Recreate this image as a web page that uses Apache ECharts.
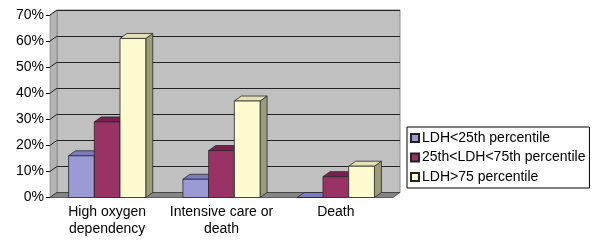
<!DOCTYPE html>
<html><head><meta charset="utf-8">
<script src="https://cdn.jsdelivr.net/npm/echarts@6/dist/echarts.min.js"></script>
<style>html,body{margin:0;padding:0;background:#fff}#c{width:600px;height:243px}</style>
</head><body><div id="c"></div>
<script>
var categories = ['High oxygen\ndependency', 'Intensive care or\ndeath', 'Death'];
var seriesNames = ['LDH<25th percentile', '25th<LDH<75th percentile', 'LDH>75 percentile'];
var lowLDH = [16, 7, 0];
var midLDH = [29, 18, 8];
var highLDH = [61, 37, 12];
var yTicks = [0, 10, 20, 30, 40, 50, 60, 70];

var DX = 7, DY = -5;
var faces = [
  {front: '#9a9ad4', top: '#7c7cc0', side: '#5e5e98'},
  {front: '#993366', top: '#7a2050', side: '#661a44'},
  {front: '#fffbd0', top: '#e4e2b4', side: '#9c9c78'}
];
var FONT = 'Liberation Sans, Arial, sans-serif';

function barRender(si) {
  return function (params, api) {
    var cat = api.value(0), val = api.value(1);
    var band = api.size([1, 0])[0];
    var w = band * 0.225;
    var center = api.coord([cat, 0])[0];
    var x0 = center + (si - 1.5) * w;
    var x1 = x0 + w;
    var yb = api.coord([cat, 0])[1];
    var yt = api.coord([cat, val])[1];
    var f = faces[si];
    var st = {stroke: '#2a2a2a', lineWidth: 0.8};
    return {type: 'group', children: [
      {type: 'polygon', shape: {points: [[x1, yt], [x1 + DX, yt + DY], [x1 + DX, yb + DY], [x1, yb]]},
        style: Object.assign({fill: f.side}, st)},
      {type: 'polygon', shape: {points: [[x0, yt], [x0 + DX, yt + DY], [x1 + DX, yt + DY], [x1, yt]]},
        style: Object.assign({fill: f.top}, st)},
      {type: 'rect', shape: {x: x0, y: yt, width: w, height: yb - yt},
        style: Object.assign({fill: f.front}, st)}
    ]};
  };
}

function frameRender(params, api) {
  var cs = params.coordSys;
  var L = cs.x, R = cs.x + cs.width, T = cs.y, B = cs.y + cs.height;
  var kids = [];
  kids.push({type: 'polygon', shape: {points: [[L, T], [L + DX, T + DY], [L + DX, B + DY], [L, B]]},
    style: {fill: '#b4b4b4', stroke: '#777', lineWidth: 0.6}});
  yTicks.forEach(function (t) {
    var y = api.coord([0, t])[1];
    kids.push({type: 'line', shape: {x1: L, y1: y, x2: L + DX, y2: y + DY},
      style: {stroke: '#222', lineWidth: 1}});
  });
  kids.push({type: 'polygon', shape: {points: [[L, B], [L + DX, B + DY], [R + DX, B + DY], [R, B]]},
    style: {fill: '#858585', stroke: '#444', lineWidth: 0.8}});
  return {type: 'group', children: kids};
}

var data = [lowLDH, midLDH, highLDH];
var series = [{
  type: 'custom', xAxisIndex: 0, yAxisIndex: 0, z: 1, silent: true,
  renderItem: frameRender, data: [[0, 0]], legendHoverLink: false
}];
data.forEach(function (arr, si) {
  series.push({
    name: seriesNames[si], type: 'custom', xAxisIndex: 0, yAxisIndex: 0, z: 2 + si,
    itemStyle: {color: faces[si].front, borderColor: '#222', borderWidth: 1},
    renderItem: barRender(si),
    data: arr.map(function (v, i) { return [i, v]; })
  });
});

var chart = echarts.init(document.getElementById('c'), null, {renderer: 'canvas'});
chart.setOption({
  animation: false,
  backgroundColor: '#fff',
  grid: [
    {left: 50, right: 207, top: 15, bottom: 45.5, containLabel: false},
    {left: 50 + DX, right: 207 - DX, top: 15 + DY, bottom: 45.5 - DY, show: true,
      backgroundColor: '#c0c0c0', borderColor: '#8a8a8a', borderWidth: 1, z: 0}
  ],
  xAxis: [
    {type: 'category', gridIndex: 0, data: categories,
      axisLine: {show: false}, axisTick: {show: false},
      axisLabel: {color: '#000', fontFamily: FONT, fontSize: 14, lineHeight: 17, margin: 6, interval: 0}},
    {type: 'category', gridIndex: 1, data: categories, show: false}
  ],
  yAxis: [
    {type: 'value', gridIndex: 0, min: 0, max: 70, interval: 10,
      axisLine: {show: true, lineStyle: {color: '#000', width: 1}},
      axisTick: {show: true, length: 4, lineStyle: {color: '#000'}},
      splitLine: {show: false},
      axisLabel: {color: '#000', fontFamily: FONT, fontSize: 14, margin: 6,
        formatter: function (v) { return v + '%'; }}},
    {type: 'value', gridIndex: 1, min: 0, max: 70, interval: 10,
      axisLine: {show: false}, axisTick: {show: false}, axisLabel: {show: false},
      splitLine: {show: true, lineStyle: {color: '#222', width: 1}}}
  ],
  legend: {
    orient: 'vertical', left: 407, top: 127,
    data: seriesNames,
    icon: 'rect', itemWidth: 8, itemHeight: 8, itemGap: 3.5,
    padding: [3, 4, 3, 3],
    borderColor: '#000', borderWidth: 1, backgroundColor: '#fff',
    textStyle: {color: '#000', fontFamily: FONT, fontSize: 14, lineHeight: 16, padding: [0, 0, 0, -2]}
  },
  series: series
});
</script>
</body></html>
